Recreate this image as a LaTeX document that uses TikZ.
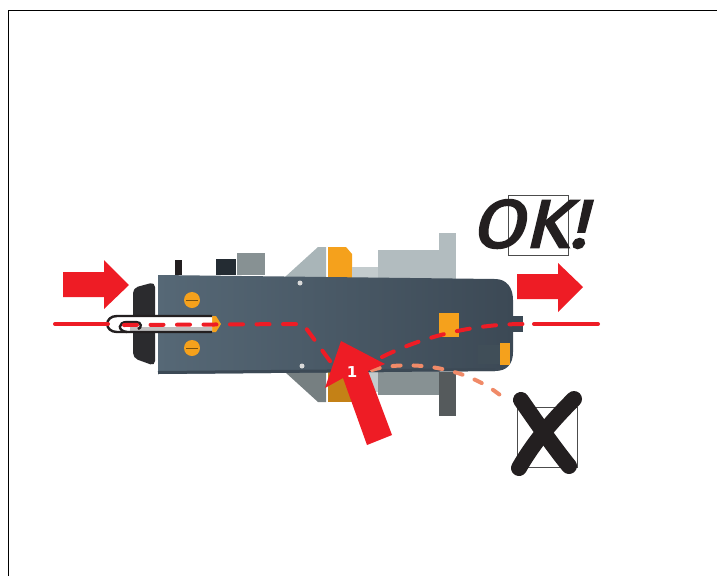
\documentclass[tikz,border=0pt]{standalone}
\usepackage{fontspec}
\usepackage{xcolor}
\usetikzlibrary{
  arrows.meta,
  positioning,
  calc
}
\newfontfamily\okfont[FakeSlant=0.24,FakeStretch=1.12,FakeBold=3]{Fira Sans}
\setmainfont{DejaVu Sans}
\definecolor{signred}{HTML}{EE1C25}
\definecolor{paleline}{HTML}{F08A68}
\definecolor{housing}{HTML}{566876}
\definecolor{housingdark}{HTML}{3C4955}
\definecolor{capblack}{HTML}{2B2B2E}
\definecolor{brass}{HTML}{F5A11C}
\definecolor{metal}{HTML}{A9B5B8}
\definecolor{markblack}{HTML}{231F20}

\begin{document}
\begin{tikzpicture}[
  x=1pt, y=-1pt,
  redfill/.style={fill=signred, draw=none},
  part/.style={fill=#1, draw=none},
  threadline/.style={signred, line width=4pt, line cap=round},
  threaddash/.style={threadline, dash pattern=on 13pt off 13.5pt},
  wrongdash/.style={paleline, line width=4pt, line cap=round, dash pattern=on 8pt off 13pt},
  markbox/.style={draw=black!70, line width=0.7pt, minimum width=60pt, minimum height=60pt, inner sep=0},
  crossbar/.style={markblack, line width=16pt, line cap=round}
]
  \useasboundingbox (0,0) rectangle (717,576);

  % Frame
  \draw[black, line width=0.8pt] (8,576) -- (8,10) -- (717,10);

  % Parts above the housing
  \fill[part=markblack] (175,275) rectangle (182,260);
  \fill[part=housingdark!60!black] (216,275) rectangle (236,259);
  \fill[part=metal!80!black] (237,275) rectangle (265,253);
  \fill[part=metal] (285,277) -- (318,247) -- (326,247) -- (326,277) -- cycle;
  \fill[part=brass] (328,247) -- (346,247) -- (352,254) -- (352,279) -- (328,279) -- cycle;
  \fill[part=metal!70] (352,267) rectangle (378,279);
  \fill[part=metal!90] (378,250) rectangle (440,279);
  \fill[part=metal!90] (439,233) rectangle (456,279);

  % Parts below the housing
  \fill[part=metal!70!black] (285,372) -- (318,402) -- (326,402) -- (326,372) -- cycle;
  \fill[part=brass!80!black] (328,372) rectangle (352,402);
  \fill[part=metal!70] (352,372) rectangle (378,392);
  \fill[part=metal!80!black] (378,372) rectangle (440,395);
  \fill[part=metal!50!black] (439,372) rectangle (456,416);

  % Front cap and rear nub
  \fill[part=capblack, rounded corners=5pt] (155,282) -- (133,288) -- (133,358) -- (155,366) -- cycle;
  \fill[part=housingdark] (513,316) rectangle (523,332);

  % Housing
  \path[left color=housing, right color=housingdark]
    (158,275) -- (495,279) .. controls (507,279) and (513,288) .. (513,300)
    -- (513,352) .. controls (513,364) and (507,371) .. (495,371) -- (158,374) -- cycle;
  \draw[housingdark, line width=3pt] (158,372.5) -- (495,369.5);
  \fill[part=housing!75!black] (478,345) rectangle (500,364);
  \foreach \nx/\ny in {300/283, 302/366} {
    \fill[white!85!black] (\nx,\ny) circle (2.5);
  }

  % Screws and inserts
  \foreach \sy in {300,348} {
    \fill[part=brass] (192,\sy) circle (8);
    \draw[brass!50!black, line width=0.8pt] (186,\sy) -- (198,\sy);
  }
  \fill[part=brass] (439,313) rectangle (459,337);
  \fill[part=brass] (500,343) rectangle (510,365);
  \fill[part=brass] (212,316) -- (216,316) -- (221,324) -- (216,332) -- (212,332) -- cycle;

  % Thread guide slot
  \fill[white] (212,316) -- (117,316) .. controls (104,316) and (104,332) .. (117,332) -- (212,332) -- cycle;
  \fill[black!25] (130,327) rectangle (212,331);
  \draw[markblack, line width=2.4pt]
    (212,316) -- (117,316) .. controls (104,316) and (104,332) .. (117,332) -- (212,332);
  \draw[markblack, line width=2.4pt]
    (127,332) .. controls (117,331) and (118,322) .. (127,322) -- (136,322) .. controls (142,322) and (142,328) .. (138,329);

  % Thread path
  \coordinate (lineHook) at (108,324);
  \coordinate (dashA) at (124,325);
  \coordinate (dashB) at (303,324);
  \coordinate (dashC) at (335,368);
  \coordinate (dashD) at (382,357);
  \coordinate (dashE) at (524,324);
  \coordinate (lineM) at (534,324);
  \coordinate (lineR) at (598,324);
  \coordinate (wrongA) at (372,370);
  \coordinate (wrongB) at (507,401);

  \draw[threadline] (55,324) -- (lineHook);
  \draw[threaddash] (dashA) -- (dashB) -- (dashC);
  \draw[threaddash] (dashD) .. controls (420,338) and (470,324) .. (dashE);
  \draw[threadline] (lineM) -- (lineR);
  \draw[wrongdash] (wrongA) .. controls (400,361) and (465,362) .. (wrongB);

  % Feed arrows
  \fill[redfill] (63,272) -- (104,272) -- (104,260) -- (129,285) -- (104,309) -- (104,297) -- (63,297) -- cycle;
  \fill[redfill] (517,274) -- (558,274) -- (558,263) -- (583,287) -- (558,312) -- (558,299) -- (517,299) -- cycle;

  % Step arrow
  \fill[redfill] (341,341) -- (385,364) -- (368,371) -- (392,435) -- (367,445) -- (343,378) -- (325,388) -- cycle;
  \node[text=white, font=\bfseries\fontsize{15}{15}\selectfont] (stepno) at (352,372) {1};

  % Marks
  \node[markbox] (okbox) at (538,225) {};
  \node[markbox] (nobox) at (547.5,437.5) {};
  \node[text=markblack, font=\okfont\fontsize{68}{68}\selectfont, inner sep=0] (oktext) at (529,224) {OK!};

  \draw[crossbar] (519,468) .. controls (535,440) and (555,418) .. (574,399);
  \draw[crossbar] (521,400) .. controls (535,420) and (552,445) .. (569,466);
\end{tikzpicture}
\end{document}
